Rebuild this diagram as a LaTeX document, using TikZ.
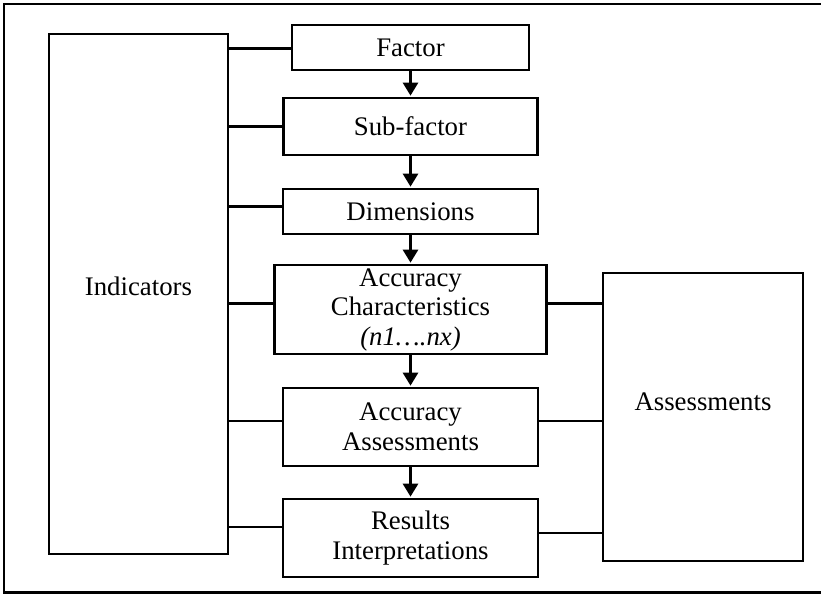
\documentclass[tikz,border=0pt]{standalone}
\usepackage{fontspec}
\setmainfont{Liberation Serif}
\usetikzlibrary{arrows.meta, positioning}

\begin{document}
\begin{tikzpicture}[
  x=1pt, y=-1pt,
  box/.style={draw, line width=2.7pt, minimum width=255pt, minimum height=45pt, align=center, inner sep=2pt, font=\fontsize{26.8}{29.5}\selectfont},
  arrow/.style={-{Triangle[length=13pt, width=15pt]}, line width=2.7pt, shorten >=1pt},
  link/.style={line width=2.7pt}
]
  \useasboundingbox (0,0) rectangle (821,595);
  \draw[link] (4,4) rectangle (830,592.5);

  % middle column
  \node[box, minimum width=237pt] (factor) at (410.5,47.5) {Factor};
  \node[box, minimum width=254pt, minimum height=57pt, below=25.3pt of factor] (subfactor) {Sub-factor};
  \node[box, below=31.3pt of subfactor] (dims) {Dimensions};
  \node[box, minimum width=272pt, minimum height=89pt, below=28.3pt of dims] (accchar) {Accuracy\\Characteristics\\\textit{(n1….nx)}};
  \node[box, minimum height=78pt, below=31.3pt of accchar] (accass) {Accuracy\\Assessments};
  \node[box, minimum height=78pt, below=30.3pt of accass] (results) {Results\\Interpretations};

  % side blocks
  \node[box, minimum width=179pt, minimum height=520pt, text depth=16pt] (ind) at (138.5,294) {Indicators};
  \node[box, minimum width=200pt, minimum height=288pt, text depth=30pt] (ass) at (703,417) {Assessments};

  \draw[arrow] (factor) -- (subfactor);
  \draw[arrow] (subfactor) -- (dims);
  \draw[arrow] (dims) -- (accchar);
  \draw[arrow] (accchar) -- (accass);
  \draw[arrow] (accass) -- (results);

  \foreach \n/\s in {factor/-1, subfactor/0, dims/5, accchar/6, accass/6, results/11}
    \draw[link] ([yshift=\s pt]\n.west) -- ([yshift=\s pt]\n.west -| ind.east);
  \foreach \n/\s in {accchar/6, accass/6, results/5}
    \draw[link] ([yshift=\s pt]\n.east) -- ([yshift=\s pt]\n.east -| ass.west);
\end{tikzpicture}
\end{document}
